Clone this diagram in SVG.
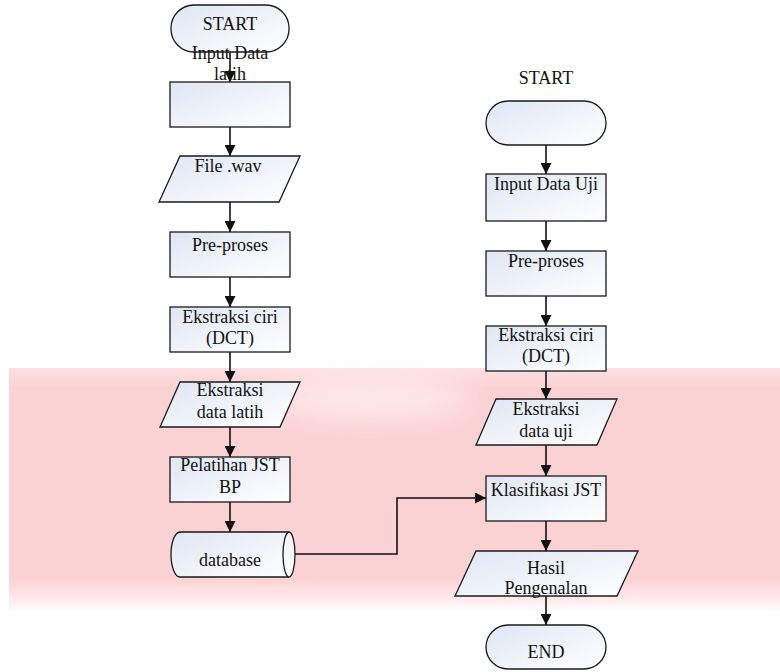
<svg xmlns="http://www.w3.org/2000/svg" width="780" height="672" viewBox="0 0 780 672">
<defs>
<style>
.s{stroke:#1a1a1a;stroke-width:1.3;fill:url(#g)}
.t{font-family:"Liberation Serif","Times New Roman",serif;font-size:18px;fill:#111;text-anchor:middle}
.c{stroke:#111;stroke-width:1.6;fill:none}
.a{marker-end:url(#ar)}
</style>
<linearGradient id="g" x1="0" y1="0" x2="1" y2="1">
<stop offset="0" stop-color="#dfe6f4"/>
<stop offset="1" stop-color="#ffffff"/>
</linearGradient>
<linearGradient id="pk" x1="0" y1="0" x2="0" y2="1">
<stop offset="0" stop-color="#fce0e2"/>
<stop offset="0.08" stop-color="#fbd2d4"/>
<stop offset="0.86" stop-color="#fbd2d4"/>
<stop offset="0.93" stop-color="#fde6e8"/>
<stop offset="1" stop-color="#ffffff"/>
</linearGradient>
<filter id="bl" x="-50%" y="-50%" width="200%" height="200%"><feGaussianBlur stdDeviation="14"/></filter>
<marker id="ar" viewBox="0 0 10 10" refX="10" refY="5" markerWidth="11" markerHeight="11" markerUnits="userSpaceOnUse" orient="auto">
<path d="M0,0 L10,5 L0,10 Z" fill="#111"/>
</marker>
</defs>
<rect width="780" height="672" fill="#ffffff"/>
<g id="watermark">
<rect x="9" y="368" width="771" height="245" fill="url(#pk)"/>
<ellipse cx="370" cy="398" rx="100" ry="20" fill="#fff4f5" opacity="0.7" filter="url(#bl)"/>
</g>
<g id="connectors">
<path class="c a" d="M230,52 V82"/>
<path class="c a" d="M230,127 V156"/>
<path class="c a" d="M230,202 V232"/>
<path class="c a" d="M230,277 V307"/>
<path class="c a" d="M230,352 V382"/>
<path class="c a" d="M230,427 V457"/>
<path class="c a" d="M230,502 V532"/>
<path class="c a" d="M292,554 H397 V498 H486"/>
<path class="c a" d="M546,145 V174"/>
<path class="c a" d="M546,221 V251"/>
<path class="c a" d="M546,296 V326"/>
<path class="c a" d="M546,371 V399"/>
<path class="c a" d="M546,445 V476"/>
<path class="c a" d="M546,521 V551"/>
<path class="c a" d="M546,596 V625"/>
</g>
<g id="start1"><rect class="s" x="171" y="5" width="118" height="47" rx="23"/><text class="t" x="230" y="30">START</text></g>
<g id="input1"><rect class="s" x="170" y="82" width="120" height="45"/></g>
<g id="inputlabel1"><text class="t" x="230" y="59">Input Data</text><text class="t" x="230" y="80">latih</text></g>
<g id="filewav"><path class="s" d="M180,156 H300 L279,202 H159 Z"/><text class="t" x="228" y="172">File .wav</text></g>
<g id="preproses1"><rect class="s" x="170" y="232" width="120" height="45"/><text class="t" x="230" y="251">Pre-proses</text></g>
<g id="ekstraksi1"><rect class="s" x="170" y="307" width="120" height="45"/><text class="t" x="230" y="323">Ekstraksi ciri</text><text class="t" x="230" y="344">(DCT)</text></g>
<g id="datalatih"><path class="s" d="M180,382 H300 L280,427 H160 Z"/><text class="t" x="230" y="396">Ekstraksi</text><text class="t" x="230" y="418">data latih</text></g>
<g id="pelatihan"><rect class="s" x="170" y="457" width="120" height="45"/><text class="t" x="230" y="471">Pelatihan JST</text><text class="t" x="230" y="493">BP</text></g>
<g id="database"><path class="s" d="M180,532 H289 A6,22.5 0 0 1 289,577 H180 A9,22.5 0 0 1 180,532 Z"/><path d="M289,532 A6,22.5 0 0 0 289,577" fill="none" stroke="#1a1a1a" stroke-width="1.3"/><text class="t" x="230" y="566">database</text></g>
<g id="startlabel2"><text class="t" x="546" y="84">START</text></g>
<g id="start2"><rect class="s" x="486" y="101" width="120" height="44" rx="22"/></g>
<g id="input2"><rect class="s" x="486" y="174" width="120" height="47"/><text class="t" x="546" y="190">Input Data Uji</text></g>
<g id="preproses2"><rect class="s" x="486" y="251" width="120" height="45"/><text class="t" x="546" y="267">Pre-proses</text></g>
<g id="ekstraksi2"><rect class="s" x="486" y="326" width="120" height="45"/><text class="t" x="546" y="341">Ekstraksi ciri</text><text class="t" x="546" y="362">(DCT)</text></g>
<g id="datauji"><path class="s" d="M496,399 H617 L597,445 H476 Z"/><text class="t" x="546" y="415">Ekstraksi</text><text class="t" x="546" y="437">data uji</text></g>
<g id="klasifikasi"><rect class="s" x="486" y="476" width="120" height="45"/><text class="t" x="546" y="496">Klasifikasi JST</text></g>
<g id="hasil"><path class="s" d="M476,551 H638 L617,596 H455 Z"/><text class="t" x="546" y="574">Hasil</text><text class="t" x="546" y="594">Pengenalan</text></g>
<g id="end"><rect class="s" x="486" y="625" width="120" height="44" rx="22"/><text class="t" x="546" y="658">END</text></g>
</svg>
